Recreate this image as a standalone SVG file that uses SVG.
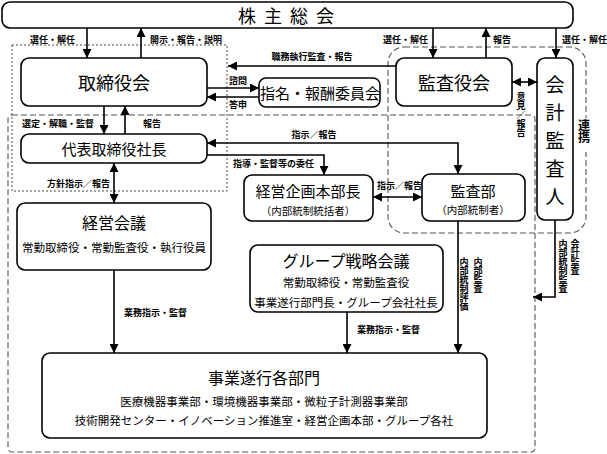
<svg xmlns="http://www.w3.org/2000/svg" width="607" height="454" viewBox="0 0 607 454">
<defs>
<marker id="ah" viewBox="0 0 10 10" refX="10" refY="5" markerWidth="10" markerHeight="9" markerUnits="userSpaceOnUse" orient="auto-start-reverse">
<path d="M0,0 L10,5 L0,10 Z" fill="#000"/>
</marker>
<style>
text{font-family:"Noto Sans CJK JP","Noto Sans",sans-serif;fill:#000}
.box{fill:#fff;stroke:#000;stroke-width:1.6}
.big{font-size:18px;text-anchor:middle;dominant-baseline:central}
.mid{font-size:15px;text-anchor:middle;dominant-baseline:central}
.sub{font-size:11.5px;text-anchor:middle;dominant-baseline:central}
.lbl{font-size:9px;font-weight:bold;dominant-baseline:central}
.vt{writing-mode:vertical-rl;font-size:9px;font-weight:bold}
.c{fill:none;stroke:#000;stroke-width:1.6}
.a{marker-end:url(#ah)}
.b{marker-start:url(#ah);marker-end:url(#ah)}
.dash{fill:none;stroke:#555;stroke-width:1.1;stroke-dasharray:6 3}
.dot{fill:none;stroke:#333;stroke-width:0.9;stroke-dasharray:2 2}
</style>
</defs>
<rect width="607" height="454" fill="#fff"/>
<g id="frames">
<rect class="dash" x="8" y="115" width="527" height="337" rx="4"/>
<rect class="dot" x="12" y="45" width="215" height="146"/>
<rect class="dash" x="388" y="47" width="198" height="186" rx="16"/>
<rect x="579" y="118" width="14" height="34" fill="#fff"/>
<text class="vt" x="584" y="119" style="font-size:12px;font-weight:bold">連携</text>
</g>
<g id="connectors">
<line class="c a" x1="87" y1="28" x2="87" y2="58"/>
<line class="c a" x1="141" y1="58" x2="141" y2="28"/>
<line class="c a" x1="433" y1="28" x2="433" y2="58"/>
<line class="c a" x1="486" y1="58" x2="486" y2="28"/>
<line class="c a" x1="556" y1="28" x2="556" y2="58"/>
<line class="c a" x1="396" y1="66" x2="228" y2="66"/>
<line class="c a" x1="207" y1="88" x2="259" y2="88"/>
<line class="c a" x1="259" y1="97" x2="207" y2="97"/>
<line class="c b" x1="512" y1="82" x2="537" y2="82"/>
<line class="c a" x1="104" y1="106" x2="104" y2="134"/>
<line class="c a" x1="125" y1="134" x2="125" y2="106"/>
<path class="c b" d="M207,143 H458 V174"/>
<path class="c a" d="M207,155 H324 V175"/>
<line class="c b" x1="373" y1="197" x2="422" y2="197"/>
<line class="c b" x1="114" y1="163" x2="114" y2="203"/>
<line class="c a" x1="114" y1="270" x2="114" y2="353"/>
<line class="c a" x1="347" y1="312" x2="347" y2="353"/>
<line class="c a" x1="458" y1="221" x2="458" y2="353"/>
<path class="c a" d="M555,220 V297 H533"/>
<text class="lbl" x="30" y="39">選任・解任</text>
<text class="lbl" x="150" y="39">開示・報告・説明</text>
<text class="lbl" x="428" y="39" text-anchor="end">選任・解任</text>
<text class="lbl" x="493" y="39">報告</text>
<text class="lbl" x="562" y="39">選任・解任</text>
<text class="lbl" x="312" y="56" text-anchor="middle">職務執行監査・報告</text>
<text class="lbl" x="229" y="80">諮問</text>
<text class="lbl" x="229" y="104">答申</text>
<text class="lbl" x="22" y="123">選定・解職・監督</text>
<text class="lbl" x="143" y="123">報告</text>
<text class="lbl" x="314" y="134" text-anchor="middle">指示／報告</text>
<text class="lbl" x="233" y="163">指導・監督等の委任</text>
<text class="lbl" x="47" y="183">方針指示／報告</text>
<text class="lbl" x="377" y="185">指示／報告</text>
<text class="lbl" x="124" y="312">業務指示・監督</text>
<text class="lbl" x="357" y="329">業務指示・監督</text>
<text class="vt" x="521" y="92">意見／報告</text>
<text class="vt" x="478" y="257">内部監査</text>
<text class="vt" x="464" y="257">内部統制評価</text>
<text class="vt" x="575" y="239">会計監査</text>
<text class="vt" x="563" y="239">内部統制監査</text>
</g>
<g id="shareholders">
<rect class="box" x="2" y="2" width="571" height="26" rx="8"/>
<text class="big" x="287" y="15" style="letter-spacing:2px">株 主 総 会</text>
</g>
<g id="board">
<rect class="box" x="21" y="58" width="186" height="48" rx="8"/>
<text class="big" x="114" y="82">取締役会</text>
</g>
<g id="nomination">
<rect class="box" x="259" y="78" width="121" height="29" rx="7"/>
<text class="mid" x="320" y="92">指名・報酬委員会</text>
</g>
<g id="auditors">
<rect class="box" x="396" y="58" width="116" height="48" rx="8"/>
<text class="big" x="454" y="82">監査役会</text>
</g>
<g id="accounting-auditor">
<rect class="box" x="537" y="58" width="36" height="162" rx="8"/>
<text x="555" y="75" style="writing-mode:vertical-rl;font-size:19px;letter-spacing:9px">会計監査人</text>
</g>
<g id="president">
<rect class="box" x="21" y="134" width="186" height="29" rx="8"/>
<text class="mid" x="114" y="148">代表取締役社長</text>
</g>
<g id="planning">
<rect class="box" x="244" y="175" width="129" height="46" rx="8"/>
<text class="mid" x="308" y="190">経営企画本部長</text>
<text class="sub" x="308" y="210" style="font-size:10.5px">（内部統制統括者）</text>
</g>
<g id="audit-dept">
<rect class="box" x="422" y="174" width="103" height="47" rx="8"/>
<text class="mid" x="473" y="190">監査部</text>
<text class="sub" x="473" y="209" style="font-size:10.5px">（内部統制者）</text>
</g>
<g id="management">
<rect class="box" x="17" y="203" width="194" height="67" rx="8"/>
<text class="big" x="114" y="222" style="font-size:16px">経営会議</text>
<text class="sub" x="114" y="247">常勤取締役・常勤監査役・執行役員</text>
</g>
<g id="group-strategy">
<rect class="box" x="250" y="245" width="193" height="67" rx="8"/>
<text class="mid" x="346" y="260" style="font-size:16px">グループ戦略会議</text>
<text class="sub" x="346" y="282">常勤取締役・常勤監査役</text>
<text class="sub" x="346" y="302">事業遂行部門長・グループ会社社長</text>
</g>
<g id="divisions">
<rect class="box" x="42" y="353" width="445" height="85" rx="8"/>
<text class="mid" x="264" y="377" style="font-size:16px">事業遂行各部門</text>
<text class="sub" x="264" y="401">医療機器事業部・環境機器事業部・微粒子計測器事業部</text>
<text class="sub" x="264" y="420">技術開発センター・イノベーション推進室・経営企画本部・グループ各社</text>
</g>
</svg>
